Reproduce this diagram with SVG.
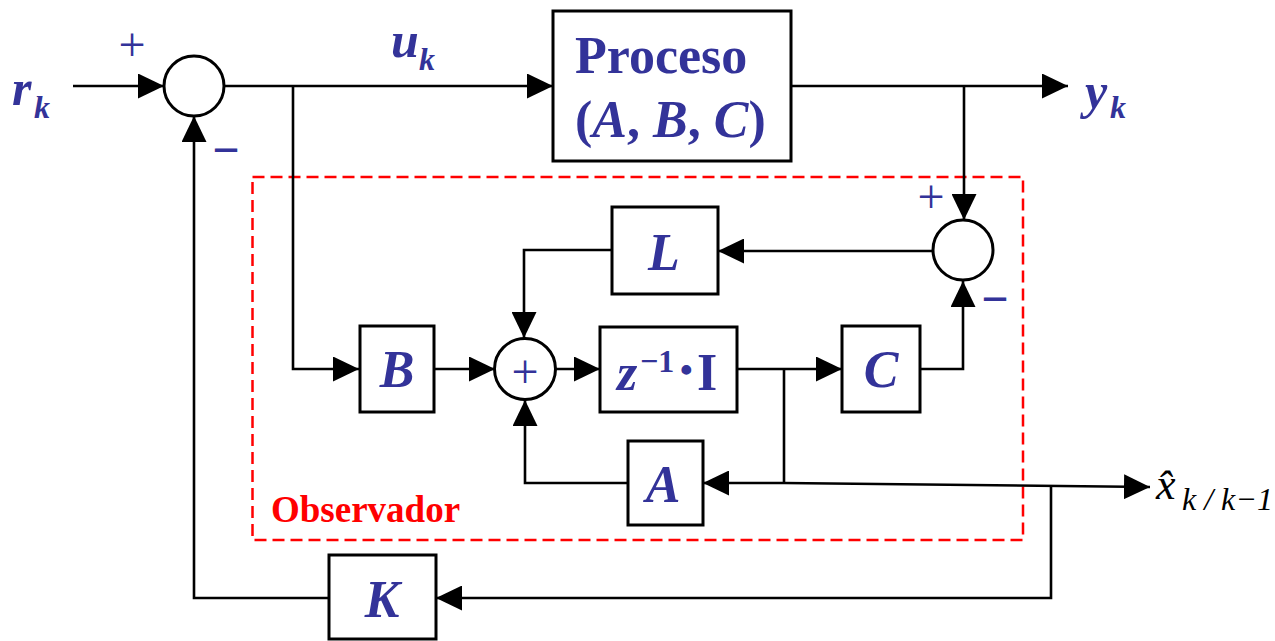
<svg xmlns="http://www.w3.org/2000/svg" width="1275" height="641" viewBox="0 0 1275 641">
<style>
.box{fill:#fff;stroke:#000;stroke-width:3}
.sum{fill:#fff;stroke:#000;stroke-width:3}
.ln{fill:none;stroke:#000;stroke-width:2.6;stroke-linejoin:miter}
.arr{marker-end:url(#ah)}
.t{font-family:"Liberation Serif","Times New Roman",serif;fill:#333399}
.bi{font-weight:bold;font-style:italic}
.b{font-weight:bold}
.sign{font-family:"Liberation Serif","Times New Roman",serif;fill:#333399;font-size:48px;text-anchor:middle}
.obs{fill:none;stroke:#ff0000;stroke-width:2.5;stroke-dasharray:12 6}
.blk{font-family:"Liberation Serif","Times New Roman",serif;fill:#000;font-style:italic}
</style>
<defs>
<marker id="ah" viewBox="0 0 26 25" refX="26" refY="12.5" markerWidth="26" markerHeight="25" markerUnits="userSpaceOnUse" orient="auto">
<path d="M0,0 L26,12.5 L0,25 z" fill="#000"/>
</marker>
</defs>
<rect x="0" y="0" width="1275" height="641" fill="#fff"/>

<g id="observador">
<rect class="obs" x="252.5" y="177" width="770.5" height="363"/>
<text x="271" y="522" font-family="Liberation Serif, Times New Roman, serif" font-weight="bold" font-size="37" fill="#ff0000">Observador</text>
</g>

<g id="connectors">
<path class="ln arr" d="M73,86 H164"/>
<path class="ln arr" d="M224,86 H553"/>
<path class="ln arr" d="M293,86 V369 H359"/>
<path class="ln arr" d="M434,369 H495"/>
<path class="ln arr" d="M555,369 H600"/>
<path class="ln arr" d="M737,369 H842"/>
<path class="ln arr" d="M920,369 H963 V281"/>
<path class="ln arr" d="M791,86 H1068"/>
<path class="ln arr" d="M964,86 V220"/>
<path class="ln arr" d="M933,251 H718"/>
<path class="ln arr" d="M612,250 H524 V338"/>
<path class="ln" d="M784,369 V483"/>
<path class="ln arr" d="M784,483 H703"/>
<path class="ln arr" d="M784,483 L1150,487"/>
<path class="ln arr" d="M1051,487 V598 H436"/>
<path class="ln arr" d="M329,598 H194 V116"/>
<path class="ln arr" d="M627,483 H525 V400"/>
</g>

<g id="sum1">
<circle class="sum" cx="194" cy="86" r="30"/>
<text class="sign" x="132" y="61">+</text>
<text class="sign b" x="226" y="166">−</text>
</g>

<g id="proceso">
<rect class="box" x="553" y="11" width="238" height="150"/>
<text class="t b" x="575" y="73" font-size="52">Proceso</text>
<text class="t b" x="575" y="137" font-size="52">(<tspan font-style="italic">A</tspan>, <tspan font-style="italic">B</tspan>, <tspan font-style="italic">C</tspan>)</text>
</g>

<g id="sum2">
<circle class="sum" cx="963" cy="250" r="30"/>
<text class="sign" x="931" y="213">+</text>
<text class="sign b" x="995" y="315">−</text>
</g>

<g id="L">
<rect class="box" x="612" y="207" width="106" height="87"/>
<text class="t bi" x="664" y="270" font-size="52" text-anchor="middle">L</text>
</g>

<g id="B">
<rect class="box" x="360" y="326" width="74" height="86"/>
<text class="t bi" x="397" y="387" font-size="52" text-anchor="middle">B</text>
</g>

<g id="sum3">
<circle class="sum" cx="525" cy="369" r="30.5"/>
<text class="sign" x="525" y="388">+</text>
</g>

<g id="delay">
<rect class="box" x="600" y="327" width="137" height="85"/>
<text class="t bi" x="617" y="390" font-size="52">z</text>
<text class="t b" x="640" y="372" font-size="32">−1</text>
<text class="t b" x="680" y="382" font-size="36">•</text>
<text class="t b" x="697" y="390" font-size="52">I</text>
</g>

<g id="C">
<rect class="box" x="842" y="326" width="78" height="86"/>
<text class="t bi" x="881" y="387" font-size="52" text-anchor="middle">C</text>
</g>

<g id="A">
<rect class="box" x="628" y="441" width="75" height="84"/>
<text class="t bi" x="663" y="502" font-size="52" text-anchor="middle">A</text>
</g>

<g id="K">
<rect class="box" x="329" y="555" width="107" height="84"/>
<text class="t bi" x="382" y="617" font-size="52" text-anchor="middle">K</text>
</g>

<g id="labels">
<text class="t bi" x="12" y="105" font-size="50">r</text>
<text class="t bi" x="34" y="118" font-size="32">k</text>
<text class="t bi" x="391" y="57" font-size="50">u</text>
<text class="t bi" x="419" y="70" font-size="32">k</text>
<text class="t bi" x="1085" y="108" font-size="50">y</text>
<text class="t bi" x="1110" y="118" font-size="32">k</text>
<text class="blk" x="1156" y="499" font-size="44">x̂<tspan x="1182" y="510" font-size="32">k / k−1</tspan></text>
</g>
</svg>
